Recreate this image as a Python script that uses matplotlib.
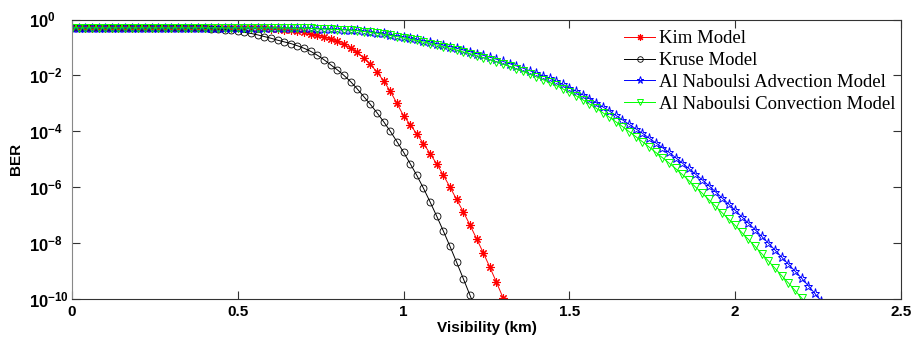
import numpy as np
import matplotlib
matplotlib.use('Agg')
import matplotlib.pyplot as plt

# BER, stored as log10(BER), one value every 0.02 km from 0
step_km = 0.02

kim_log_ber = [
    -0.30, -0.30, -0.30, -0.30, -0.30, -0.30, -0.30, -0.30, -0.30, -0.30,
    -0.30, -0.30, -0.30, -0.30, -0.30, -0.30, -0.30, -0.30, -0.30, -0.30,
    -0.30, -0.30, -0.30, -0.30, -0.30, -0.30, -0.30, -0.31, -0.31, -0.32,
    -0.33, -0.34, -0.36, -0.37, -0.40, -0.46, -0.52, -0.57, -0.63, -0.70,
    -0.78, -0.89, -1.02, -1.18, -1.38, -1.61, -1.88, -2.20, -2.57, -3.00,
    -3.45, -3.76, -4.10, -4.44, -4.80, -5.17, -5.57, -6.00, -6.44, -6.88,
    -7.35, -7.84, -8.34, -8.86, -9.40, -9.96, -10.52,
]

kruse_log_ber = [
    -0.30, -0.30, -0.30, -0.30, -0.30, -0.30, -0.30, -0.30, -0.30, -0.30,
    -0.30, -0.30, -0.30, -0.30, -0.30, -0.30, -0.30, -0.30, -0.31, -0.31,
    -0.32, -0.33, -0.34, -0.36, -0.39, -0.42, -0.46, -0.50, -0.55, -0.61,
    -0.67, -0.74, -0.80, -0.86, -0.94, -1.03, -1.14, -1.28, -1.44, -1.62,
    -1.80, -2.00, -2.22, -2.48, -2.76, -3.04, -3.34, -3.66, -4.00, -4.37,
    -4.75, -5.16, -5.58, -6.04, -6.53, -7.04, -7.57, -8.12, -8.69, -9.27,
    -9.86, -10.45,
]

advection_log_ber = [
    -0.30, -0.30, -0.30, -0.30, -0.30, -0.30, -0.30, -0.30, -0.30, -0.30,
    -0.30, -0.30, -0.30, -0.30, -0.30, -0.30, -0.30, -0.30, -0.30, -0.30,
    -0.30, -0.30, -0.30, -0.30, -0.30, -0.30, -0.30, -0.30, -0.30, -0.30,
    -0.30, -0.30, -0.30, -0.31, -0.31, -0.31, -0.32, -0.33, -0.33, -0.34,
    -0.35, -0.36, -0.37, -0.39, -0.41, -0.44, -0.47, -0.50, -0.54, -0.58,
    -0.62, -0.67, -0.71, -0.76, -0.81, -0.86, -0.92, -0.97, -1.03, -1.09,
    -1.15, -1.22, -1.28, -1.35, -1.42, -1.50, -1.58, -1.66, -1.74, -1.83,
    -1.92, -2.01, -2.10, -2.21, -2.32, -2.44, -2.56, -2.69, -2.83, -2.97,
    -3.12, -3.27, -3.43, -3.59, -3.75, -3.91, -4.07, -4.24, -4.41, -4.58,
    -4.75, -4.94, -5.13, -5.33, -5.53, -5.73, -5.94, -6.16, -6.38, -6.60,
    -6.83, -7.06, -7.29, -7.52, -7.76, -8.00, -8.25, -8.50, -8.75, -9.00,
    -9.25, -9.52, -9.80, -10.08,
]

convection_log_ber = [
    -0.30, -0.30, -0.30, -0.30, -0.30, -0.30, -0.30, -0.30, -0.30, -0.30,
    -0.30, -0.30, -0.30, -0.30, -0.30, -0.30, -0.30, -0.30, -0.30, -0.30,
    -0.30, -0.30, -0.30, -0.30, -0.30, -0.30, -0.30, -0.30, -0.30, -0.30,
    -0.30, -0.30, -0.30, -0.31, -0.31, -0.31, -0.32, -0.33, -0.34, -0.35,
    -0.36, -0.37, -0.38, -0.40, -0.43, -0.46, -0.49, -0.53, -0.57, -0.61,
    -0.66, -0.71, -0.75, -0.81, -0.86, -0.91, -0.97, -1.03, -1.09, -1.16,
    -1.22, -1.29, -1.36, -1.44, -1.51, -1.60, -1.68, -1.77, -1.86, -1.96,
    -2.05, -2.15, -2.25, -2.36, -2.48, -2.60, -2.73, -2.87, -3.02, -3.17,
    -3.33, -3.49, -3.66, -3.83, -4.01, -4.19, -4.37, -4.56, -4.75, -4.94,
    -5.13, -5.33, -5.54, -5.76, -5.99, -6.21, -6.44, -6.67, -6.91, -7.14,
    -7.37, -7.62, -7.87, -8.12, -8.38, -8.64, -8.90, -9.16, -9.42, -9.69,
    -9.96, -10.24,
]

labels = ['Kim Model', 'Kruse Model', 'Al Naboulsi Advection Model',
          'Al Naboulsi Convection Model']
x_ticks = [0, 0.5, 1, 1.5, 2, 2.5]
x_tick_labels = ['0', '0.5', '1', '1.5', '2', '2.5']
y_exponents = [0, -2, -4, -6, -8, -10]

plt.rcParams['mathtext.fontset'] = 'custom'
plt.rcParams['mathtext.rm'] = 'Liberation Sans:bold'
plt.rcParams['mathtext.it'] = 'Liberation Sans:bold'
plt.rcParams['mathtext.bf'] = 'Liberation Sans:bold'


def as_series(log_ber):
    vis = np.arange(len(log_ber)) * step_km
    return vis, 10.0 ** np.array(log_ber)


fig = plt.figure(figsize=(9.17, 3.39), dpi=100)
ax = fig.add_axes([72 / 917, 40 / 339, 829 / 917, 279.5 / 339])

x, y = as_series(kim_log_ber)
ax.plot(x, y, color='r', lw=0.7, marker=(8, 2, 0), ms=6, mew=0.8, label=labels[0])
x, y = as_series(kruse_log_ber)
ax.plot(x, y, color='k', lw=0.7, marker='o', ms=5, mfc='none', mew=0.6, label=labels[1])
x, y = as_series(advection_log_ber)
ax.plot(x, y, color='b', lw=0.7, marker='*', ms=6.5, mfc='none', mew=0.7, label=labels[2])
x, y = as_series(convection_log_ber)
ax.plot(x, y, color='#00ff00', lw=0.7, marker='v', ms=6, mfc='none', mew=0.7, label=labels[3])

ax.set_yscale('log')
ax.set_xlim(0, 2.5)
ax.set_ylim(1e-10, 1)

ax.set_xticks(x_ticks)
ax.set_xticklabels(x_tick_labels, fontsize=11, fontweight='bold', family='Liberation Sans')
ax.set_yticks([10.0 ** e for e in y_exponents])
ax.set_yticklabels([r'$10^{%d}$' % e for e in y_exponents], fontsize=12)
ax.yaxis.set_minor_locator(matplotlib.ticker.NullLocator())
for t in ax.get_yticklabels():
    t.set_ha('left')

ax.tick_params(axis='both', which='major', direction='in', length=5.5, width=0.8,
               top=True, right=True, color='#333333')
ax.tick_params(axis='x', pad=4)
ax.tick_params(axis='y', pad=31)

ax.spines['left'].set_color('#888888')
for side in ['top', 'bottom', 'right']:
    ax.spines[side].set_color('#333333')

ax.set_xlabel('Visibility (km)', fontsize=11, fontweight='bold', family='Liberation Sans', labelpad=2)
ax.set_ylabel('BER', fontsize=11, fontweight='bold', family='Liberation Sans', labelpad=2)
ax.yaxis.set_label_coords(-0.059, 0.5)

ax.legend(loc='upper left', bbox_to_anchor=(611 / 917, 1 - 13 / 339), frameon=False,
          prop={'family': 'Liberation Serif', 'size': 13.5}, handlelength=1.65,
          handletextpad=0.2, labelspacing=0.25, borderpad=0, borderaxespad=0,
          markerscale=0.8)

fig.savefig('out.png', dpi=100)
